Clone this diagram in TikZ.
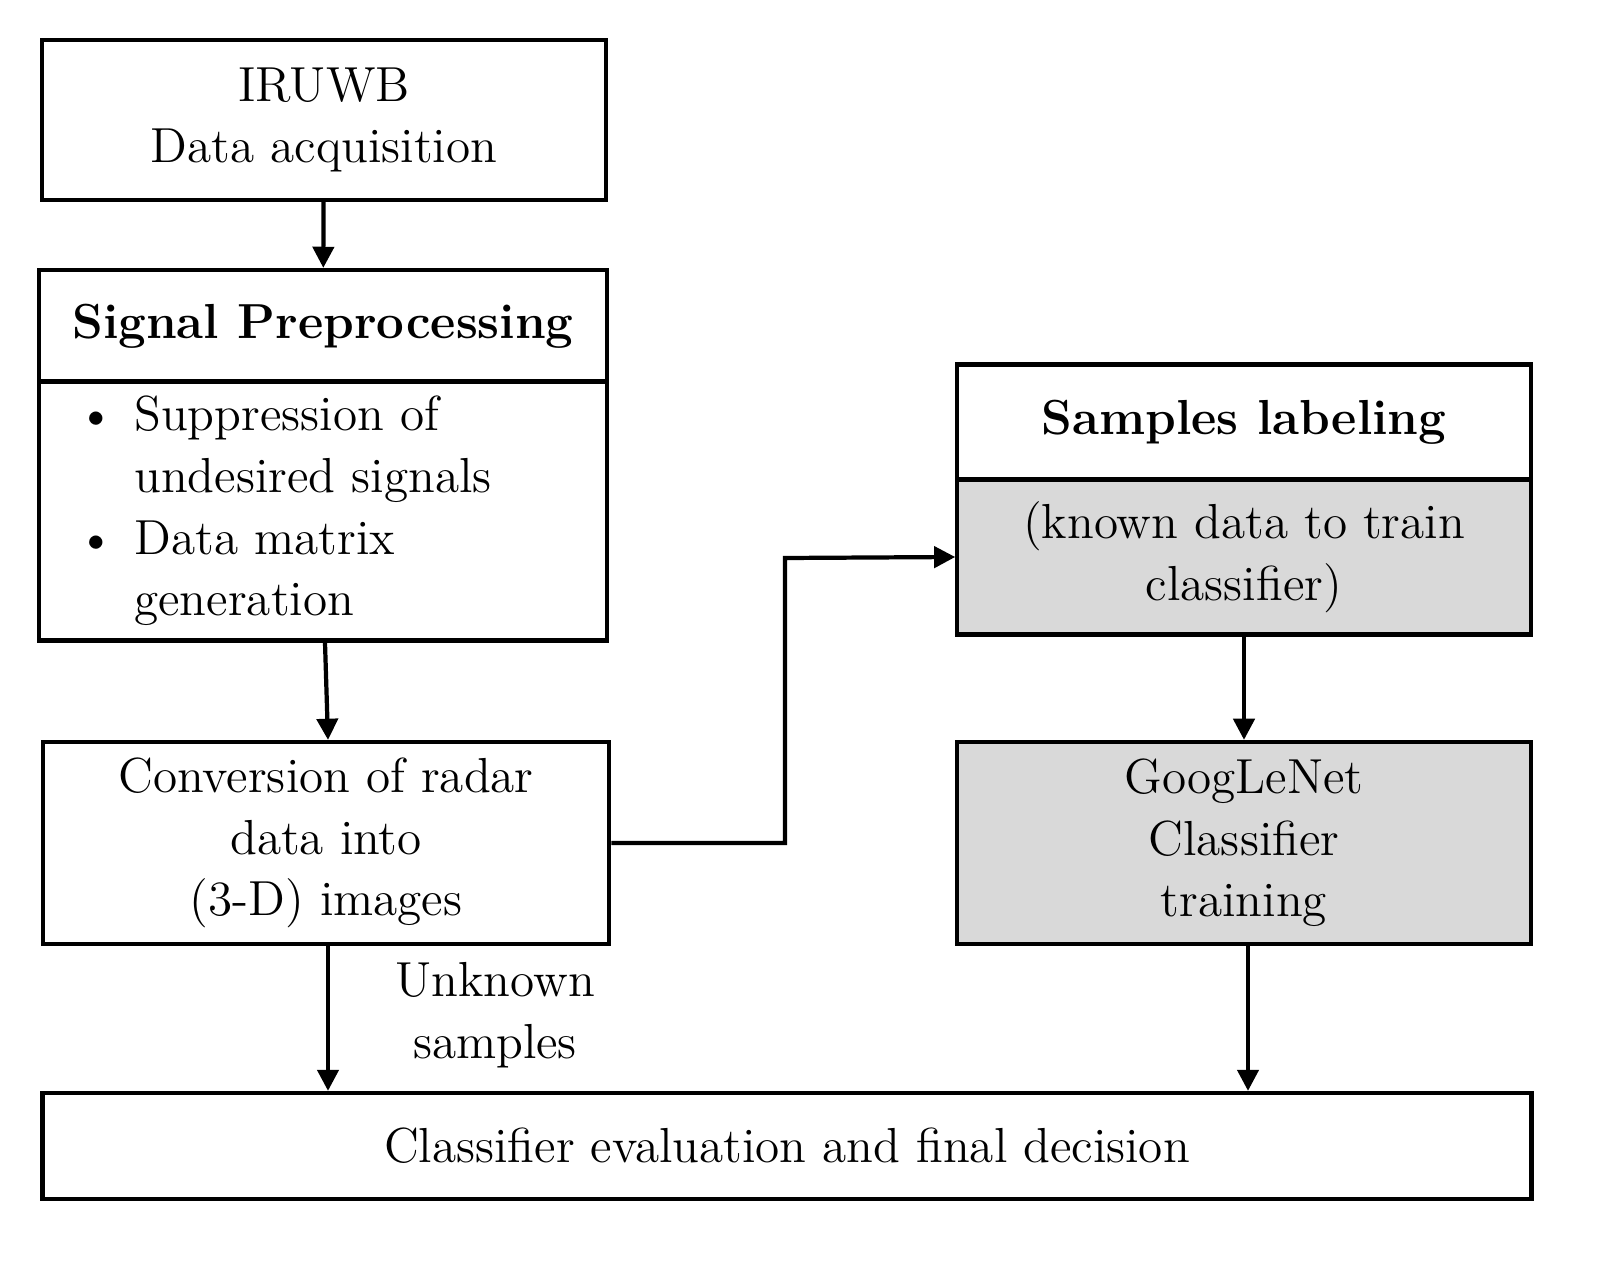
\documentclass[tikz,border=0pt]{standalone}
\usepackage{tikz}
\usetikzlibrary{arrows.meta, positioning}
\begin{document}
\begin{tikzpicture}[x=0.01cm, y=-0.01cm,
    box/.style={draw, line width=1.2pt, align=center, inner sep=0pt,
                font=\fontsize{14}{17.5}\selectfont},
    shaded/.style={box, fill=black!15},
    flow/.style={-{Triangle[length=6pt, width=6pt]}, line width=1.2pt}]
    \useasboundingbox (0,0) rectangle (1597,1264);

    % Left column
    \node[box, minimum width=5.64cm, minimum height=1.6cm] (acq) at (324,120) {IRUWB\\Data acquisition};
    \node[box, minimum width=5.67cm, minimum height=1.12cm] (prehead) at (323,326) {\textbf{Signal Preprocessing}};
    \node[box, minimum width=5.67cm, minimum height=2.59cm, align=left, text width=5.67cm] (prebody) at (323,511)
        {\renewcommand{\arraystretch}{1.0}\begin{tabular}{@{\hspace{0.38cm}}p{0.57cm}@{}l@{}}
        \textbullet & Suppression of\\ & undesired signals\\
        \textbullet & Data matrix\\ & generation\end{tabular}};
    \node[box, minimum width=5.66cm, minimum height=2.02cm] (conv) at (326,843) {Conversion of radar\\data into\\(3-D) images};

    % Right column
    \node[box, minimum width=5.73cm, minimum height=1.15cm] (labhead) at (1244,422) {\textbf{Samples labeling}};
    \node[shaded, minimum width=5.73cm, minimum height=1.55cm] (labbody) at (1244,557) {(known data to train\\classifier)};
    \node[shaded, minimum width=5.73cm, minimum height=2.02cm] (train) at (1244,843) {GoogLeNet\\Classifier\\training};

    % Bottom
    \node[box, minimum width=14.88cm, minimum height=1.06cm] (eval) at (787,1146) {Classifier evaluation and final decision};
    \node[font=\fontsize{14}{17.5}\selectfont, align=center] (unk) at (495,1015) {Unknown\\samples};

    % Connectors
    \draw[flow] (acq) -- (prehead);
    \draw[flow] (prebody.south -| 325,0) -- (conv.north -| 328,0);
    \draw[flow] (conv.east) -| (785,558) -- (labbody.west);
    \draw[flow] (labbody) -- (train);
    \draw[flow] (conv.south -| 328,0) -- (eval.north -| 328,0);
    \draw[flow] (train.south -| 1248,0) -- (eval.north -| 1248,0);
\end{tikzpicture}
\end{document}
